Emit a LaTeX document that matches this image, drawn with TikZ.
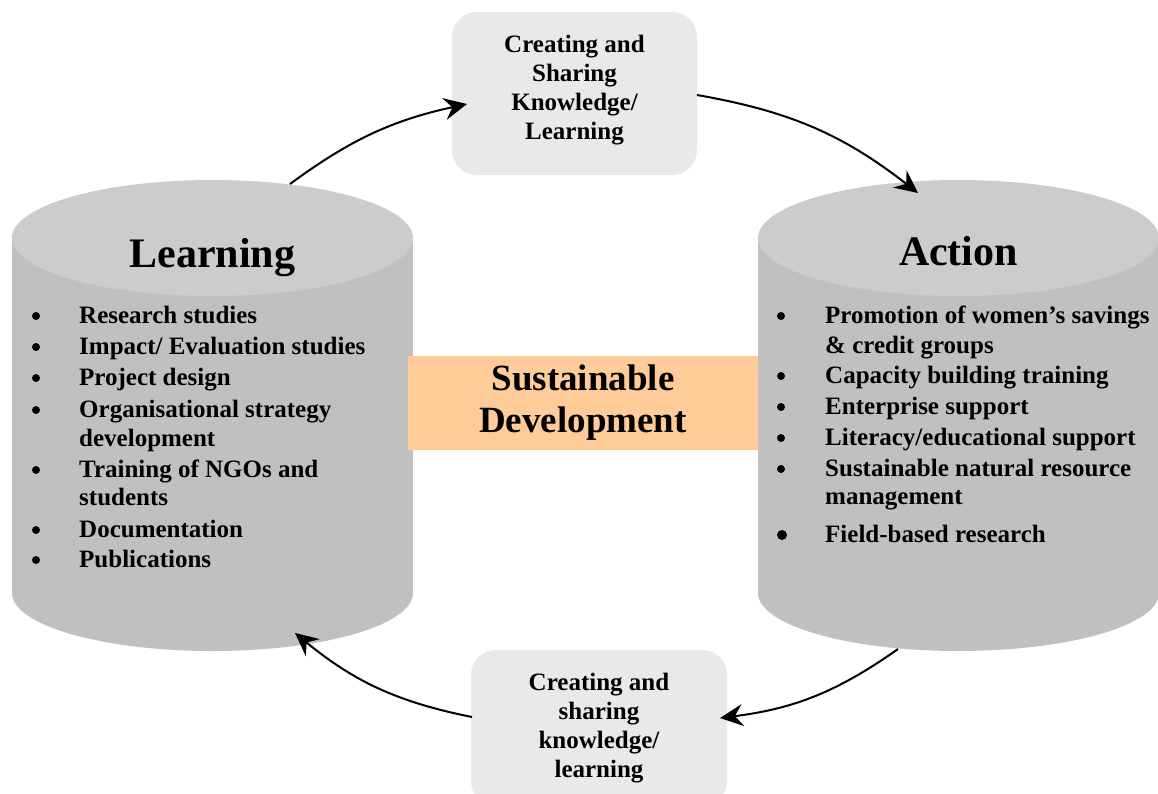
\documentclass[tikz,border=0pt]{standalone}
\usepackage{fontspec}
\setmainfont{Liberation Serif}
\usetikzlibrary{arrows.meta}
\definecolor{drumtop}{RGB}{204,204,204}
\definecolor{drumbody}{RGB}{192,192,192}
\definecolor{notebox}{RGB}{233,233,233}
\definecolor{peach}{RGB}{255,203,153}
\begin{document}
\begin{tikzpicture}[x=1pt,y=-1pt,
  drumtitle/.style={anchor=base, inner sep=0pt, font=\fontsize{42}{48}\selectfont\bfseries},
  itemline/.style={anchor=base west, inner sep=0pt, font=\fontsize{25}{29}\selectfont\bfseries},
  bullet/.style={circle, fill=black, inner sep=0pt, minimum size=8pt},
  bigbullet/.style={bullet, minimum size=10pt},
  sharebox/.style={fill=notebox, rounded corners=25pt, align=center, inner sep=0pt,
    font=\fontsize{25}{29}\selectfont\bfseries},
  centrebox/.style={fill=peach, align=center, inner sep=0pt,
    font=\fontsize{37}{42}\selectfont\bfseries},
  flow/.style={line width=2pt, -{Stealth[length=23pt,width=22pt,inset=8pt]}},
]
\clip (0,0) rectangle (1158,793);

% Learning drum
\fill[drumbody] (12,238) rectangle (413,593);
\fill[drumbody] (212.5,593) ellipse [x radius=200.5, y radius=58];
\fill[drumtop] (212.5,238) ellipse [x radius=200.5, y radius=58];

% Action drum
\fill[drumbody] (758,238) rectangle (1159,593);
\fill[drumbody] (958.5,593) ellipse [x radius=200.5, y radius=58];
\fill[drumtop] (958.5,238) ellipse [x radius=200.5, y radius=58];

\node[drumtitle] (learntitle) at (212.5,267) {Learning};
\node[drumtitle] (actiontitle) at (958.5,265) {Action};

% Learning list
\node[bullet] (lb1) at (36,316) {};
\node[itemline] (lt1) at (79,323) {Research studies};
\node[bullet] (lb2) at (36,347) {};
\node[itemline] (lt2) at (79,354) {Impact/ Evaluation studies};
\node[bullet] (lb3) at (36,378) {};
\node[itemline] (lt3) at (79,385) {Project design};
\node[bullet] (lb4) at (36,410) {};
\node[itemline] (lt4) at (79,417) {Organisational strategy};
\node[itemline] (lt4b) at (79,446) {development};
\node[bullet] (lb5) at (36,470) {};
\node[itemline] (lt5) at (79,477) {Training of NGOs and};
\node[itemline] (lt5b) at (79,505) {students};
\node[bullet] (lb6) at (36,530) {};
\node[itemline] (lt6) at (79,537) {Documentation};
\node[bullet] (lb7) at (36,560) {};
\node[itemline] (lt7) at (79,567) {Publications};

% Action list
\node[bullet] (rb1) at (781,316) {};
\node[itemline] (rt1) at (825,323) {Promotion of women’s savings};
\node[itemline] (rt1b) at (825,353) {\& credit groups};
\node[bullet] (rb2) at (781,376) {};
\node[itemline] (rt2) at (825,383) {Capacity building training};
\node[bullet] (rb3) at (781,407) {};
\node[itemline] (rt3) at (825,414) {Enterprise support};
\node[bullet] (rb4) at (781,438) {};
\node[itemline] (rt4) at (825,445) {Literacy/educational support};
\node[bullet] (rb5) at (781,469) {};
\node[itemline] (rt5) at (825,476) {Sustainable natural resource};
\node[itemline] (rt5b) at (825,504) {management};
\node[bigbullet] (rb6) at (782,535) {};
\node[itemline] (rt6) at (825,542) {Field-based research};

% centre label
\node[centrebox, minimum width=350pt, minimum height=94pt] (centre) at (583,403)
  {Sustainable\\Development};

% knowledge boxes
\node[sharebox, minimum width=245pt, minimum height=163pt] (topbox) at (574.5,93.5)
  {Creating and\\Sharing\\Knowledge/\\Learning\rule[-12pt]{0pt}{12pt}};
\node[sharebox, minimum width=256pt, minimum height=156pt] (botbox) at (599,728)
  {Creating and\\sharing\\knowledge/\\learning};

% connector ends on the drums and boxes
\coordinate (learnout) at (290,184);
\coordinate (topin) at (467,104);
\coordinate (topout) at (697,95);
\coordinate (actionin) at (918,193);
\coordinate (actionout) at (898,649);
\coordinate (botin) at (720,718);
\coordinate (botout) at (472,717);
\coordinate (learnin) at (295,633);

\draw[flow] (learnout) to[bend left=12] (topin);
\draw[flow] (topout) to[bend left=14] (actionin);
\draw[flow] (actionout) to[bend left=14] (botin);
\draw[flow] (botout) to[bend left=14] (learnin);
\end{tikzpicture}
\end{document}
